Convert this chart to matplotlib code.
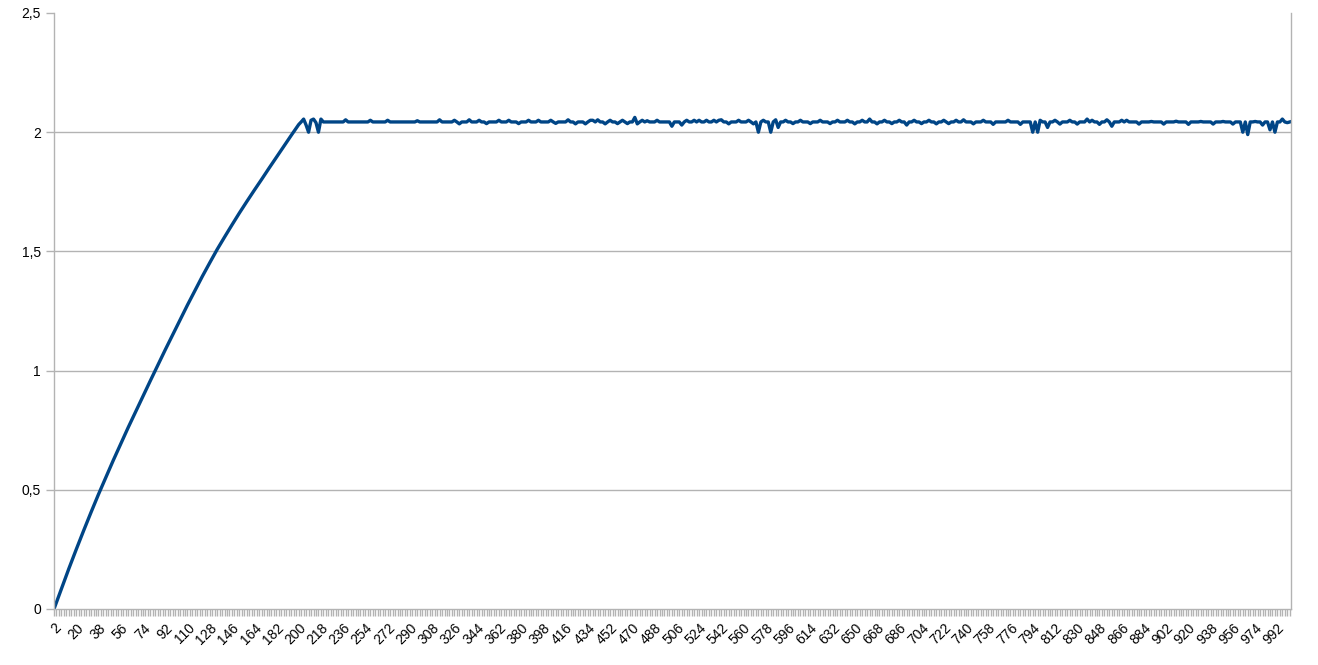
import numpy as np
import matplotlib
matplotlib.use("Agg")
import matplotlib.pyplot as plt
from matplotlib.ticker import FuncFormatter, MultipleLocator, FixedLocator

# rising part, every 6 steps
ramp_x = [2, 8, 14, 20, 26, 32, 38, 44, 50, 56, 62, 68, 74, 80, 86, 92, 98,
          104, 110, 116, 122, 128, 134, 140, 146, 152, 158, 164, 170, 176,
          182, 188, 194, 200]
ramp_y = [0.0, 0.085, 0.169, 0.250, 0.329, 0.406, 0.481, 0.553, 0.624,
          0.693, 0.761, 0.827, 0.893, 0.958, 1.023, 1.087, 1.150, 1.213,
          1.275, 1.335, 1.395, 1.452, 1.508, 1.560, 1.611, 1.661, 1.709,
          1.756, 1.802, 1.849, 1.895, 1.941, 1.987, 2.032]

# flat part: level and the spikes seen on it
plateau_start = 202
plateau_end = 1002
plateau_level = 2.043
spike_x = [204, 206, 208, 210, 212, 214, 216, 218,
           238, 258, 272, 296, 314, 326, 330, 338, 346, 352, 362, 370, 378,
           386, 394, 404, 408, 418, 424, 432, 436, 438, 442, 448, 452, 458,
           462, 466, 472, 474, 478, 482, 490, 502, 510, 514, 520, 524, 530,
           536, 540, 542, 548, 556, 564, 568, 572, 576, 582, 586, 588, 594,
           600, 606, 614, 622, 630, 636, 644, 650, 656, 662, 668, 674, 680,
           686, 692, 698, 704, 710, 716, 722, 726, 732, 738, 746, 754, 762,
           774, 784, 794, 798, 800, 806, 812, 816, 824, 830, 838, 842, 848,
           854, 858, 866, 870, 880, 890, 900, 910, 920, 930, 940, 948, 956,
           964, 968, 974, 980, 986, 990, 996, 1000]
spike_y = [2.055, 2.03, 2.0, 2.05, 2.055, 2.04, 2.0, 2.055,
           2.052, 2.05, 2.05, 2.048, 2.052, 2.05, 2.035, 2.052, 2.05, 2.036,
           2.05, 2.05, 2.036, 2.05, 2.05, 2.05, 2.037, 2.052, 2.035, 2.035,
           2.05, 2.05, 2.052, 2.035, 2.05, 2.036, 2.05, 2.036, 2.062, 2.035,
           2.05, 2.048, 2.05, 2.025, 2.03, 2.05, 2.05, 2.05, 2.05, 2.05,
           2.05, 2.052, 2.035, 2.05, 2.05, 2.035, 2.0, 2.05, 2.0, 2.052,
           2.02, 2.05, 2.036, 2.05, 2.036, 2.05, 2.036, 2.05, 2.05, 2.035,
           2.05, 2.055, 2.035, 2.05, 2.036, 2.05, 2.03, 2.05, 2.036, 2.05,
           2.035, 2.05, 2.036, 2.05, 2.052, 2.035, 2.05, 2.033, 2.05, 2.033,
           2.0, 2.0, 2.05, 2.02, 2.05, 2.034, 2.05, 2.034, 2.055, 2.05,
           2.033, 2.052, 2.025, 2.05, 2.05, 2.034, 2.045, 2.034, 2.046,
           2.033, 2.045, 2.034, 2.045, 2.034, 2.0, 1.99, 2.045, 2.03, 2.01,
           2.0, 2.055, 2.04]

x_first = 2
x_last = 1003
label_step = 18

plateau_x = np.arange(plateau_start, plateau_end + 1, 2)
plateau_y = np.full(len(plateau_x), plateau_level)
for sx, sy in zip(spike_x, spike_y):
    plateau_y[plateau_x == sx] = sy

xs = np.concatenate([ramp_x, plateau_x])
ys = np.concatenate([ramp_y, plateau_y])

grey = "#b3b3b3"
plt.rcParams['font.family'] = ['Liberation Sans', 'DejaVu Sans']

fig = plt.figure(figsize=(13.18, 6.65), dpi=100)
ax = fig.add_axes([54 / 1318, 56 / 665, (1291 - 54) / 1318, (609 - 13) / 665])

ax.plot(xs, ys, color="#004586", lw=2.4, solid_joinstyle="round")

ax.set_xlim(x_first, x_last)
ax.set_ylim(0, 2.5)

for v in [0.5, 1.0, 1.5, 2.0]:
    ax.axhline(v, color=grey, lw=1, zorder=0)

ax.yaxis.set_major_locator(MultipleLocator(0.5))
ax.yaxis.set_major_formatter(FuncFormatter(lambda v, p: ('%g' % v).replace('.', ',')))

major = list(range(x_first, x_last, label_step))
ax.xaxis.set_major_locator(FixedLocator(major))
ax.xaxis.set_minor_locator(FixedLocator(list(range(x_first, x_last + 1, 2))))
ax.set_xticklabels([str(m) for m in major], rotation=45, ha='right',
                   rotation_mode='anchor')

ax.tick_params(axis='both', which='both', color=grey, width=1, labelsize=10,
               labelcolor='black')
ax.tick_params(axis='y', length=6)
ax.tick_params(axis='x', which='both', length=5)

for side in ['left', 'bottom', 'right']:
    ax.spines[side].set_color(grey)
    ax.spines[side].set_linewidth(1)
ax.spines['top'].set_visible(False)

fig.savefig("out.png", dpi=100)
